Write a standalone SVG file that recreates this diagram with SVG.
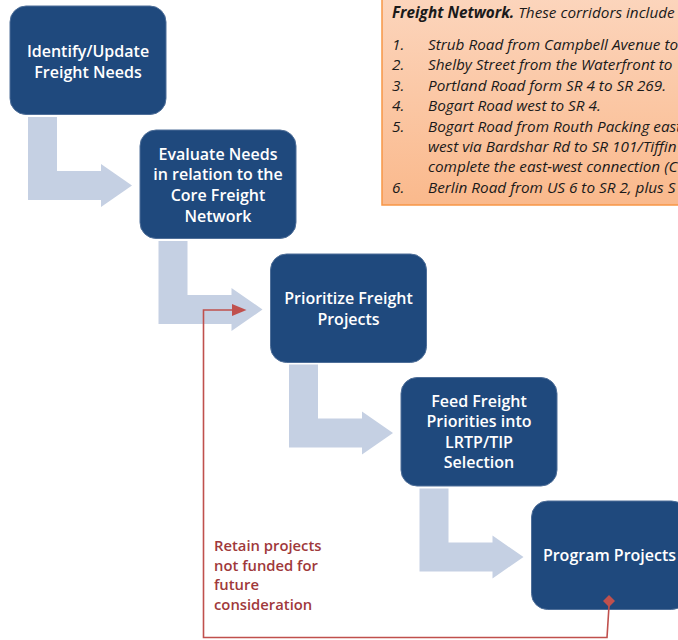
<svg xmlns="http://www.w3.org/2000/svg" width="678" height="640" viewBox="0 0 678 640">
  <defs>
    <linearGradient id="noteFill" x1="0" y1="0" x2="0" y2="1">
      <stop offset="0" stop-color="#fcd6be"/>
      <stop offset="1" stop-color="#fab98c"/>
    </linearGradient>
    <!-- bent block arrow: down from one step, then right into the next -->
    <path id="bentArrow" d="M28 117 H57 V171 H101 V164 L132 185.5 L101 207 V200 H28 Z"/>
  </defs>
  <style>
    .step rect { fill: #1f497d; stroke: #4f6f99; stroke-width: 1; }
    .step text { fill: #ffffff; font-family: "Open Sans", "Liberation Sans", sans-serif; font-weight: 600; font-size: 16px; text-anchor: middle; }
    .flow use { fill: #c5d0e3; }
    .loop { fill: none; stroke: #c0504d; stroke-width: 1.6; }
    .loopHead { fill: #c0504d; }
    .loopLabel { fill: #a0393b; font-family: "Open Sans", "Liberation Sans", sans-serif; font-weight: 600; font-size: 14.8px; }
    .note text { fill: #1a1a1a; font-family: "Open Sans", "Liberation Sans", sans-serif; font-style: italic; font-size: 15.3px; }
    .note .lead { font-weight: 700; }
  </style>

  <!-- corridor note -->
  <g id="note" class="note">
    <rect x="382" y="-10" width="310" height="215" fill="url(#noteFill)" stroke="#f79646" stroke-width="1.5"/>
    <text x="392" y="17.5"><tspan class="lead">Freight Network.</tspan> These corridors include</text>
    <text x="392" y="49.5">1.</text><text x="428" y="49.5">Strub Road from Campbell Avenue to</text>
    <text x="392" y="70">2.</text><text x="428" y="70">Shelby Street from the Waterfront to</text>
    <text x="392" y="90.5">3.</text><text x="428" y="90.5">Portland Road form SR 4 to SR 269.</text>
    <text x="392" y="111">4.</text><text x="428" y="111">Bogart Road west to SR 4.</text>
    <text x="392" y="131.5">5.</text><text x="428" y="131.5">Bogart Road from Routh Packing east</text>
    <text x="428" y="152">west via Bardshar Rd to SR 101/Tiffin</text>
    <text x="428" y="172">complete the east-west connection (C</text>
    <text x="392" y="192.5">6.</text><text x="428" y="192.5">Berlin Road from US 6 to SR 2, plus S</text>
  </g>

  <!-- flow arrows between steps -->
  <g id="connectors" class="flow">
    <use href="#bentArrow"/>
    <use href="#bentArrow" transform="translate(130.5 124)"/>
    <use href="#bentArrow" transform="translate(261 247.5)"/>
    <use href="#bentArrow" transform="translate(391.5 371.5)"/>
  </g>

  <g id="step1" class="step">
    <rect x="10" y="6" width="156" height="108.5" rx="16"/>
    <text x="88" y="57">Identify/Update</text>
    <text x="88" y="77.5">Freight Needs</text>
  </g>

  <g id="step2" class="step">
    <rect x="140" y="130" width="156" height="108.5" rx="16"/>
    <text x="218" y="159.5">Evaluate Needs</text>
    <text x="218" y="180">in relation to the</text>
    <text x="218" y="200.5">Core Freight</text>
    <text x="218" y="221.5">Network</text>
  </g>

  <g id="step3" class="step">
    <rect x="270.5" y="254" width="156" height="108.5" rx="16"/>
    <text x="348.5" y="304">Prioritize Freight</text>
    <text x="348.5" y="324.5">Projects</text>
  </g>

  <g id="step4" class="step">
    <rect x="401" y="377.5" width="156" height="108.5" rx="16"/>
    <text x="479" y="406.5">Feed Freight</text>
    <text x="479" y="427">Priorities into</text>
    <text x="479" y="447.5">LRTP/TIP</text>
    <text x="479" y="468">Selection</text>
  </g>

  <g id="step5" class="step">
    <rect x="531.5" y="501" width="156" height="108.5" rx="16"/>
    <text x="609.5" y="561">Program Projects</text>
  </g>

  <!-- feedback loop, drawn over the steps -->
  <g id="loop">
    <path class="loop" d="M609 606 L607 637.5 H203.5 V310 H233"/>
    <path class="loopHead" d="M232 304 L246.5 310 L232 316 Z"/>
    <path class="loopHead" d="M609 595 L615 601 L609 607 L603 601 Z"/>
    <text class="loopLabel" x="214" y="551">Retain projects</text>
    <text class="loopLabel" x="214" y="570.5">not funded for</text>
    <text class="loopLabel" x="214" y="590">future</text>
    <text class="loopLabel" x="214" y="609.5">consideration</text>
  </g>
</svg>
